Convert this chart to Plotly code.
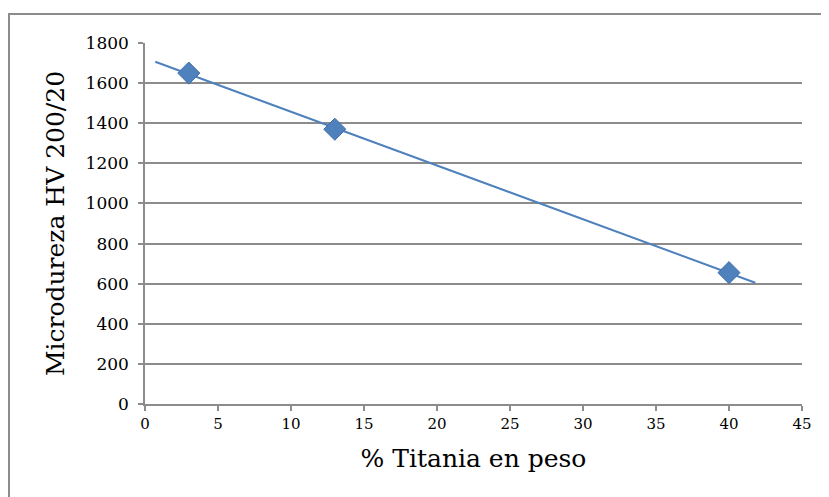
import numpy as np
import plotly.graph_objects as go

titania = [3, 13, 40]
hardness = [1650, 1370, 655]
trend_x_range = [0.7, 41.8]

# linear least-squares trend line computed from the data
slope, intercept = np.polyfit(titania, hardness, 1)
trend_x = np.array(trend_x_range)
trend_y = slope * trend_x + intercept

blue = "#4F81BD"
grey = "#8C8C8C"
font_family = "DejaVu Serif"

fig = go.Figure()
fig.add_trace(go.Scatter(x=trend_x, y=trend_y, mode="lines",
                         line=dict(color=blue, width=2), hoverinfo="skip"))
fig.add_trace(go.Scatter(x=titania, y=hardness, mode="markers",
                         marker=dict(symbol="diamond", size=17, color=blue,
                                     line=dict(color="#3F6FA8", width=1))))

fig.update_layout(
    width=821, height=489,
    margin=dict(l=137, r=27, t=35, b=93),
    paper_bgcolor="white", plot_bgcolor="white",
    showlegend=False,
    font=dict(family=font_family, color="black"),
    xaxis=dict(range=[0, 45], tick0=0, dtick=5, showgrid=False,
               showline=True, linecolor=grey, linewidth=1.5,
               ticks="outside", ticklen=5, tickcolor=grey, tickwidth=1.5,
               tickfont=dict(size=15, family=font_family),
               title=dict(text="% Titania en peso", font=dict(size=25, family=font_family), standoff=18),
               zeroline=False),
    yaxis=dict(range=[0, 1800], tick0=0, dtick=200, showgrid=True,
               gridcolor=grey, gridwidth=1.5,
               showline=True, linecolor=grey, linewidth=1.5,
               ticks="outside", ticklen=5, tickcolor=grey, tickwidth=1.5,
               ticklabelstandoff=6,
               tickfont=dict(size=17, family=font_family),
               title=dict(text="Microdureza HV 200/20", font=dict(size=25, family=font_family), standoff=14),
               zeroline=False),
    shapes=[dict(type="rect", xref="paper", yref="paper",
                 x0=-0.207, x1=1.2, y0=-0.5, y1=1.08,
                 line=dict(color=grey, width=2), fillcolor="rgba(0,0,0,0)", layer="below")],
)

fig.write_html("out.html")
